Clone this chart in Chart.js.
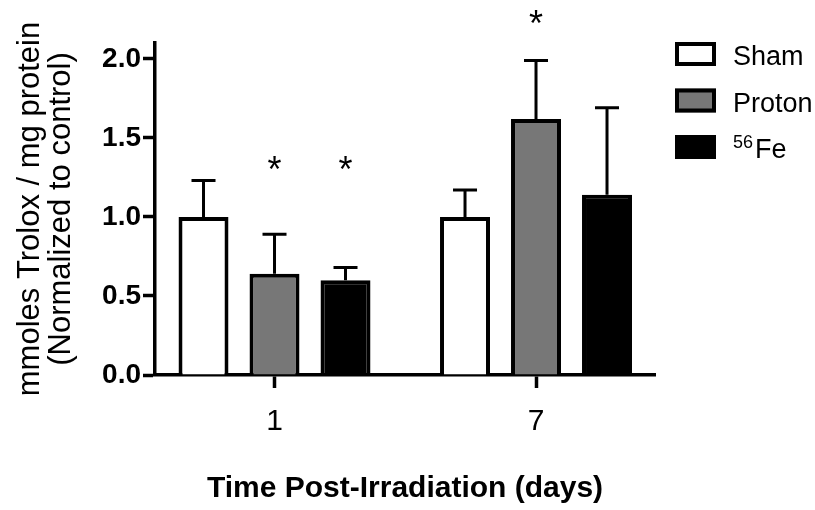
<!DOCTYPE html>
<html>
<head>
<meta charset="utf-8">
<script src="https://cdn.jsdelivr.net/npm/chart.js@4.4.1/dist/chart.umd.min.js"></script>
<style>
html, body { margin: 0; padding: 0; background: #fff; }
</style>
</head>
<body>
<canvas id="myChart" width="815" height="510"></canvas>
<script>
// values (mean, SEM) per day
var days = ['1', '7'];
var shamMean = [1.00, 1.00];
var shamErr = [0.23, 0.17];
var protonMean = [0.64, 1.62];
var protonErr = [0.25, 0.37];
var feMean = [0.60, 1.14];
var feErr = [0.08, 0.55];
var shamSig = ['', ''];
var protonSig = ['*', '*'];
var feSig = ['*', ''];
var starLevel = [1.35, 2.27];
var yTicks = [0, 0.5, 1.0, 1.5, 2.0];
var legendParts = [['', 'Sham'], ['', 'Proton'], ['56', 'Fe']];

var FONT = "'Liberation Sans', Arial, sans-serif";

function pts(arr) {
    return arr.map(function (v, i) { return {x: i, y: v}; });
}

// error bars + significance stars
var errorBars = {
    id: 'errorBars',
    afterDatasetsDraw: function (chart) {
        var ctx = chart.ctx;
        var y = chart.scales.y;
        ctx.save();
        chart.data.datasets.forEach(function (ds, d) {
            var meta = chart.getDatasetMeta(d);
            meta.data.forEach(function (bar, i) {
                var top = y.getPixelForValue(ds.data[i].y + ds.errors[i]);
                ctx.strokeStyle = '#000';
                ctx.lineWidth = 3;
                ctx.beginPath();
                ctx.moveTo(bar.x, bar.y);
                ctx.lineTo(bar.x, top);
                ctx.moveTo(bar.x - 12, top);
                ctx.lineTo(bar.x + 12, top);
                ctx.stroke();
                if (ds.sig[i]) {
                    ctx.fillStyle = '#000';
                    ctx.font = '36px ' + FONT;
                    ctx.textAlign = 'center';
                    ctx.textBaseline = 'alphabetic';
                    ctx.fillText(ds.sig[i], bar.x, y.getPixelForValue(starLevel[i]) + 20);
                }
            });
        });
        ctx.restore();
    }
};

// legend at the top right, with superscript for 56Fe
var legendBox = {
    id: 'legendBox',
    afterDraw: function (chart) {
        var ctx = chart.ctx;
        var x0 = chart.chartArea.right + 20;
        ctx.save();
        chart.data.datasets.forEach(function (ds, d) {
            var top = 42 + d * 46.5;
            ctx.fillStyle = ds.backgroundColor;
            ctx.fillRect(x0, top, 41, 24);
            ctx.strokeStyle = '#000';
            ctx.lineWidth = 4;
            ctx.strokeRect(x0 + 2, top + 2, 37, 20);
            var tx = x0 + 58;
            ctx.fillStyle = '#000';
            ctx.textAlign = 'left';
            ctx.textBaseline = 'alphabetic';
            if (legendParts[d][0]) {
                ctx.font = '18px ' + FONT;
                ctx.fillText(legendParts[d][0], tx, top + 13);
                tx += ctx.measureText(legendParts[d][0]).width + 2;
            }
            ctx.font = '27px ' + FONT;
            ctx.fillText(legendParts[d][1], tx, top + 23);
        });
        ctx.restore();
    }
};

var ctx = document.getElementById('myChart').getContext('2d');
var myChart = new Chart(ctx, {
    type: 'bar',
    data: {
        datasets: [{
            label: 'Sham',
            data: pts(shamMean),
            errors: shamErr,
            sig: shamSig,
            backgroundColor: '#ffffff'
        }, {
            label: 'Proton',
            data: pts(protonMean),
            errors: protonErr,
            sig: protonSig,
            backgroundColor: '#777777'
        }, {
            label: '\u2075\u2076Fe',
            data: pts(feMean),
            errors: feErr,
            sig: feSig,
            backgroundColor: '#000000'
        }]
    },
    options: {
        animation: false,
        responsive: false,
        maintainAspectRatio: false,
        layout: {
            padding: {top: 43, right: 160, bottom: 0, left: 0}
        },
        datasets: {
            bar: {
                borderColor: '#000',
                borderWidth: 4,
                categoryPercentage: 0.8145,
                barPercentage: 0.704
            }
        },
        plugins: {
            legend: {display: false},
            tooltip: {enabled: false}
        },
        scales: {
            x: {
                type: 'linear',
                min: -0.457,
                max: 1.455,
                offset: false,
                afterBuildTicks: function (scale) {
                    scale.ticks = days.map(function (d, i) { return {value: i}; });
                },
                afterFit: function (scale) {
                    scale.height = 135;
                },
                grid: {
                    offset: false,
                    drawOnChartArea: false,
                    tickLength: 13,
                    tickWidth: 3.5,
                    tickColor: '#000'
                },
                border: {color: '#000', width: 3.5},
                ticks: {
                    color: '#000',
                    padding: 16,
                    maxRotation: 0,
                    autoSkip: false,
                    font: {family: FONT, size: 30},
                    callback: function (v) { return days[v]; }
                },
                title: {
                    display: true,
                    text: 'Time Post-Irradiation (days)',
                    color: '#000',
                    font: {family: FONT, size: 30, weight: 'bold'},
                    padding: {top: 0, bottom: 3}
                }
            },
            y: {
                min: 0,
                max: 2.1,
                afterBuildTicks: function (scale) {
                    scale.ticks = yTicks.map(function (v) { return {value: v}; });
                },
                afterFit: function (scale) {
                    scale.width = 155;
                },
                grid: {
                    drawOnChartArea: false,
                    tickLength: 12,
                    tickWidth: 3.5,
                    tickColor: '#000'
                },
                border: {color: '#000', width: 3.5},
                ticks: {
                    color: '#000',
                    padding: 2,
                    font: {family: FONT, size: 28, weight: 'bold'},
                    callback: function (v) { return v.toFixed(1); }
                },
                title: {
                    display: true,
                    text: ['mmoles Trolox / mg protein', '(Normalized to control)'],
                    color: '#000',
                    font: {family: FONT, size: 31, lineHeight: 1.03},
                    padding: {top: 14, bottom: 0}
                }
            }
        }
    },
    plugins: [errorBars, legendBox]
});
</script>
</body>
</html>
